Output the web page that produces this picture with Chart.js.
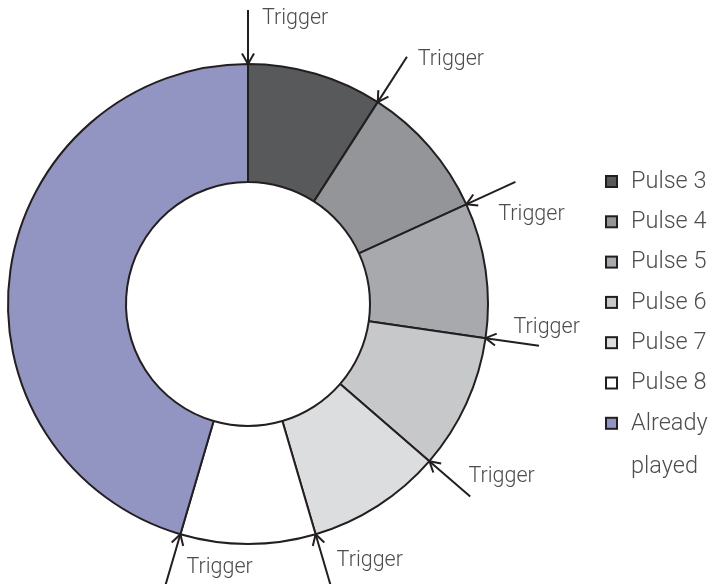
<!DOCTYPE html>
<html>
<head>
<meta charset="utf-8">
<script src="https://cdn.jsdelivr.net/npm/chart.js@4.4.1/dist/chart.umd.min.js"></script>
<style>
  html, body { margin: 0; padding: 0; background: #fff; }
  #wrap { width: 713px; height: 584px; }
</style>
</head>
<body>
<div id="wrap"><canvas id="pulses" width="713" height="584"></canvas></div>
<script>
// data
var pulseLabels = ['Pulse 3', 'Pulse 4', 'Pulse 5', 'Pulse 6', 'Pulse 7', 'Pulse 8', 'Already played'];
var pulseShares = [1, 1, 1, 1, 1, 1, 5];
var pulseColors = ['#58595b', '#939598', '#a7a9ac', '#c7c8ca', '#dcddde', '#ffffff', '#9295c2'];
var triggerText = 'Trigger';

// label offsets from each arrow tip (text left edge, middle)
var triggerOffsets = [[14, -45], [40, -42], [32, 10], [28, -11], [39, 15], [21, 26], [6, 33]];

var TRIG_FONT = '300 21.5px Roboto, "Liberation Sans", sans-serif';
var LEG_FONT = '300 23.5px Roboto, "Liberation Sans", sans-serif';
var INK = '#231f20';
var TEXT = '#4d4d4f';

// Arrows at each slice boundary
const triggerArrows = {
  id: 'triggerArrows',
  afterDatasetsDraw(chart) {
    const ctx = chart.ctx;
    const arcs = chart.getDatasetMeta(0).data;
    var angles = [];
    for (var i = 0; i < 6; i++) angles.push(arcs[i].startAngle);
    angles.push(arcs[5].endAngle);
    ctx.save();
    ctx.strokeStyle = INK;
    ctx.lineWidth = 2;
    ctx.font = TRIG_FONT;
    ctx.fillStyle = TEXT;
    ctx.textBaseline = 'middle';
    ctx.textAlign = 'left';
    angles.forEach(function (a, i) {
      const cx = arcs[0].x, cy = arcs[0].y, r = arcs[0].outerRadius;
      const ux = Math.cos(a), uy = Math.sin(a);
      const tx = cx + ux * r, ty = cy + uy * r;
      const len = 54;
      ctx.beginPath();
      ctx.moveTo(tx + ux * len, ty + uy * len);
      ctx.lineTo(tx, ty);
      ctx.stroke();
      // head
      const hl = 12, ha = Math.PI / 6;
      [ha, -ha].forEach(function (d) {
        ctx.beginPath();
        ctx.moveTo(tx, ty);
        ctx.lineTo(tx + Math.cos(a + d) * hl, ty + Math.sin(a + d) * hl);
        ctx.stroke();
      });
      const off = triggerOffsets[i];
      ctx.fillText(triggerText, tx + off[0], ty + off[1]);
    });
    ctx.restore();
  }
};

// Legend on the right
const sideLegend = {
  id: 'sideLegend',
  afterDraw(chart) {
    const ctx = chart.ctx;
    ctx.save();
    ctx.font = LEG_FONT;
    ctx.textBaseline = 'middle';
    ctx.textAlign = 'left';
    var y = 182;
    pulseLabels.forEach(function (lab, i) {
      ctx.fillStyle = pulseColors[i];
      ctx.fillRect(606, y - 6, 11, 11);
      ctx.strokeStyle = INK;
      ctx.lineWidth = 2;
      ctx.strokeRect(606, y - 6, 11, 11);
      ctx.fillStyle = TEXT;
      // wrap long labels
      var words = lab.split(' ');
      var line = '';
      var lines = [];
      words.forEach(function (w) {
        var test = line ? line + ' ' + w : w;
        if (ctx.measureText(test).width > 82 && line) { lines.push(line); line = w; }
        else line = test;
      });
      lines.push(line);
      lines.forEach(function (l, k) {
        ctx.fillText(l, 631, y + k * 43);
      });
      y += 40.3;
    });
    ctx.restore();
  }
};

var ctx_pulses = document.getElementById('pulses');
var pulses = new Chart(ctx_pulses, {
  type: 'doughnut',
  data: {
    labels: pulseLabels,
    datasets: [
      {
        data: pulseShares,
        backgroundColor: pulseColors,
        borderColor: INK,
        borderWidth: 2,
        radius: 240,
        cutout: 122,
      }
    ],
  },
  options: {
    responsive: false,
    animation: false,
    events: [],
    layout: {
      padding: { left: 7, top: 63, right: 224, bottom: 39 }
    },
    plugins: {
      legend: { display: false },
      tooltip: { enabled: false }
    }
  },
  plugins: [triggerArrows, sideLegend]
});
</script>
</body>
</html>
